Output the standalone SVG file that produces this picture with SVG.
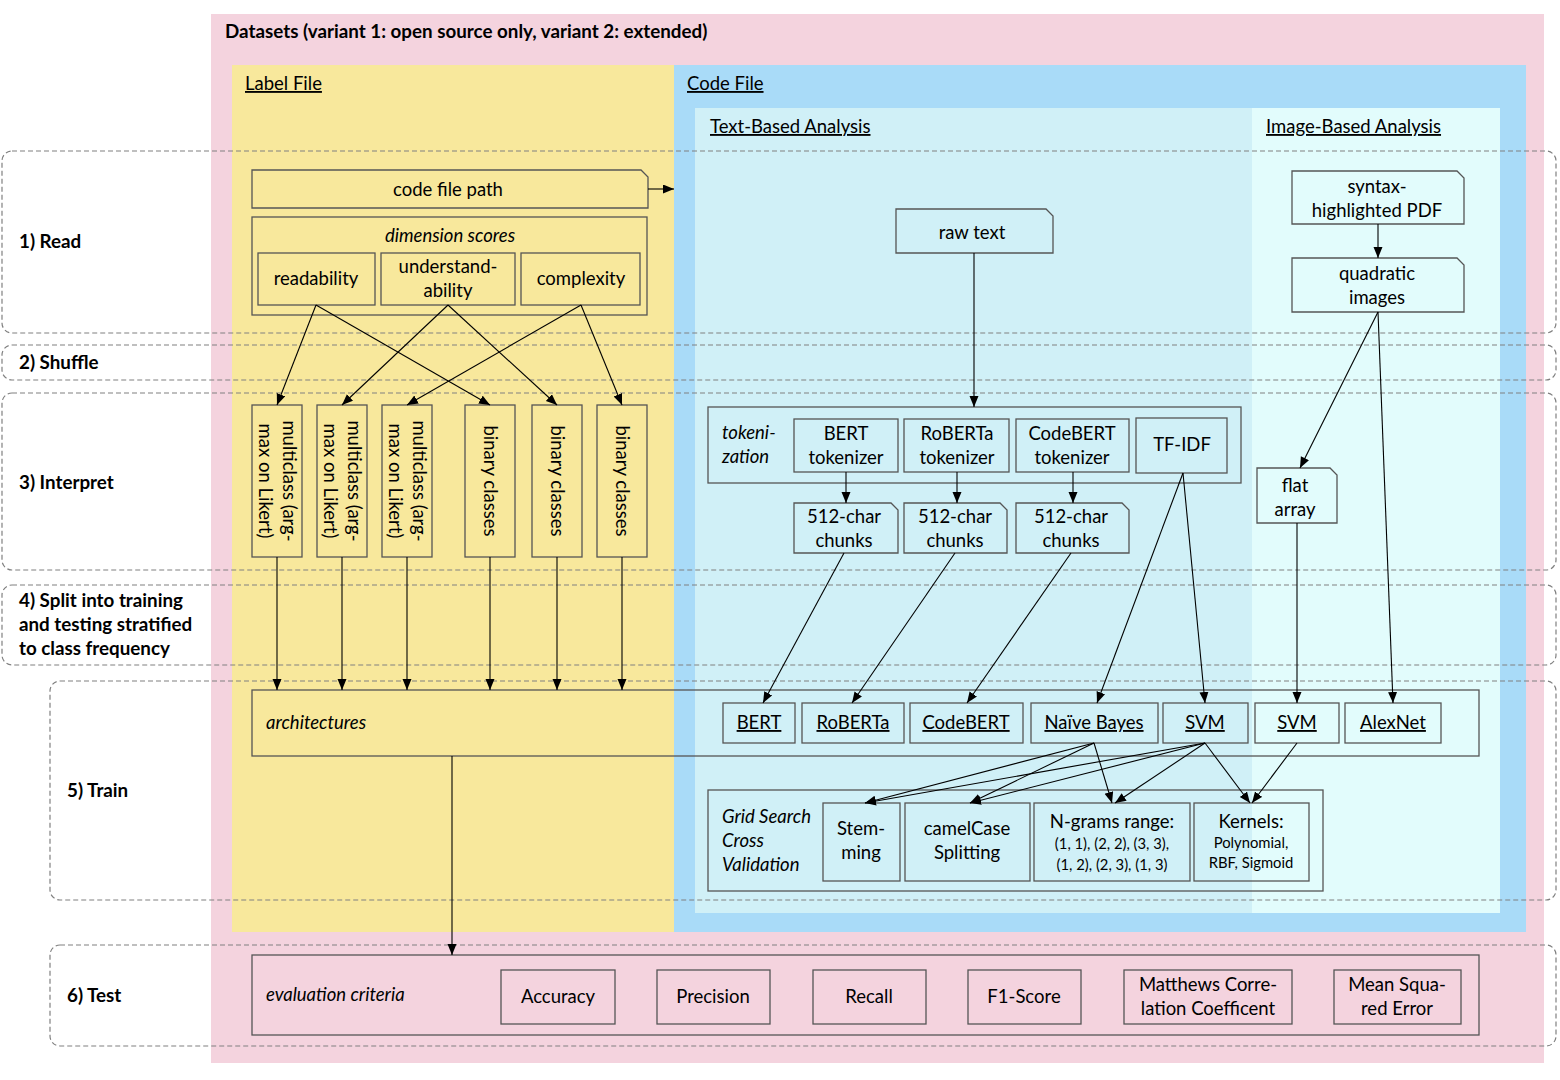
<svg xmlns="http://www.w3.org/2000/svg" width="1560" height="1080" viewBox="0 0 1560 1080">
<defs>
<marker id="ah" markerUnits="userSpaceOnUse" markerWidth="12" markerHeight="10" refX="11" refY="4.5" orient="auto"><path d="M0,0 L11,4.5 L0,9 z" fill="#000"/></marker>
<style>
text{font-family:Lato,"Open Sans","Liberation Sans",sans-serif;font-size:18.5px;fill:#000}
.c{text-anchor:middle}
.i{font-style:italic}
.b{font-weight:bold;font-size:18.8px}
.u{text-decoration:underline}
.s{font-size:14.8px}
.ph{fill:none;stroke:#808080;stroke-width:1.2;stroke-dasharray:5,3}
.n{fill:none;stroke:#555;stroke-width:1.3}
.cn line{stroke:#000;stroke-width:1.1;marker-end:url(#ah)}
</style>
</defs>
<rect width="1560" height="1080" fill="#fff"/>
<g id="backgrounds">
<rect x="211" y="14" width="1333" height="1049" fill="#f4d3de"/>
<rect x="232" y="65" width="442" height="867" fill="#f8e89c"/>
<rect x="674" y="65" width="852" height="867" fill="#a9dbf8"/>
<rect x="695" y="108" width="557" height="805" fill="#d0f0f7"/>
<rect x="1252" y="108" width="248" height="805" fill="#e2fcfc"/>
<text x="225" y="38" class="b">Datasets (variant 1: open source only, variant 2: extended)</text>
<text x="245" y="90" class="u">Label File</text>
<text x="687" y="90" class="u">Code File</text>
<text x="710" y="133" class="u">Text-Based Analysis</text>
<text x="1266" y="133" class="u">Image-Based Analysis</text>
</g>
<g id="phases">
<rect class="ph" x="2" y="151" width="1554" height="182" rx="10"/>
<rect class="ph" x="2" y="345" width="1554" height="35" rx="10"/>
<rect class="ph" x="2" y="393" width="1554" height="177" rx="10"/>
<rect class="ph" x="2" y="585" width="1554" height="80" rx="10"/>
<rect class="ph" x="50" y="681" width="1506" height="219" rx="10"/>
<rect class="ph" x="50" y="945" width="1506" height="101" rx="10"/>
<text x="19" y="248" class="b">1) Read</text>
<text x="19" y="369" class="b">2) Shuffle</text>
<text x="19" y="489" class="b">3) Interpret</text>
<text x="19" y="607" class="b">4) Split into training</text>
<text x="19" y="631" class="b">and testing stratified</text>
<text x="19" y="655" class="b">to class frequency</text>
<text x="67" y="797" class="b">5) Train</text>
<text x="67" y="1002" class="b">6) Test</text>
</g>
<g id="code-file-path"><path class="n" d="M252,170 H641 L648,177 V208 H252 Z"/><text x="448" y="196" class="c">code file path</text></g>
<g id="dimension-scores"><rect class="n" x="252" y="217" width="395" height="98"/><text x="450" y="242" class="c i">dimension scores</text></g>
<g id="readability"><rect class="n" x="258" y="253" width="117" height="52"/><text x="316" y="285" class="c">readability</text></g>
<g id="understandability"><rect class="n" x="381" y="253" width="134" height="52"/><text x="448" y="273" class="c">understand-</text><text x="448" y="297" class="c">ability</text></g>
<g id="complexity"><rect class="n" x="521" y="253" width="119" height="52"/><text x="581" y="285" class="c">complexity</text></g>
<g id="multiclass-1"><rect class="n" x="252" y="405" width="50" height="152"/><text transform="translate(277,481) rotate(90)" class="c"><tspan x="0" y="-6">multiclass (arg-</tspan><tspan x="0" y="18">max on Likert)</tspan></text></g>
<g id="multiclass-2"><rect class="n" x="317" y="405" width="50" height="152"/><text transform="translate(342,481) rotate(90)" class="c"><tspan x="0" y="-6">multiclass (arg-</tspan><tspan x="0" y="18">max on Likert)</tspan></text></g>
<g id="multiclass-3"><rect class="n" x="382" y="405" width="50" height="152"/><text transform="translate(407,481) rotate(90)" class="c"><tspan x="0" y="-6">multiclass (arg-</tspan><tspan x="0" y="18">max on Likert)</tspan></text></g>
<g id="binary-1"><rect class="n" x="465" y="405" width="50" height="152"/><text transform="translate(490,481) rotate(90)" class="c" y="6">binary classes</text></g>
<g id="binary-2"><rect class="n" x="532" y="405" width="50" height="152"/><text transform="translate(557,481) rotate(90)" class="c" y="6">binary classes</text></g>
<g id="binary-3"><rect class="n" x="597" y="405" width="50" height="152"/><text transform="translate(622,481) rotate(90)" class="c" y="6">binary classes</text></g>
<g id="raw-text"><path class="n" d="M896,209 H1046 L1053,216 V253 H896 Z"/><text x="972" y="239" class="c">raw text</text></g>
<g id="tokenization"><rect class="n" x="708" y="407" width="533" height="76"/><text x="722" y="439" class="i">tokeni-</text><text x="722" y="463" class="i">zation</text></g>
<g id="bert-tokenizer"><rect class="n" x="794" y="419" width="104" height="53"/><text x="846" y="440" class="c">BERT</text><text x="846" y="464" class="c">tokenizer</text></g>
<g id="roberta-tokenizer"><rect class="n" x="904" y="419" width="105" height="53"/><text x="957" y="440" class="c">RoBERTa</text><text x="957" y="464" class="c">tokenizer</text></g>
<g id="codebert-tokenizer"><rect class="n" x="1016" y="419" width="113" height="53"/><text x="1072" y="440" class="c">CodeBERT</text><text x="1072" y="464" class="c">tokenizer</text></g>
<g id="tf-idf"><rect class="n" x="1136" y="418" width="91" height="55"/><text x="1182" y="451" class="c">TF-IDF</text></g>
<g id="bert-chunks"><path class="n" d="M794,503 H891 L898,510 V553 H794 Z"/><text x="844" y="523" class="c">512-char</text><text x="844" y="547" class="c">chunks</text></g>
<g id="roberta-chunks"><path class="n" d="M904,503 H1000 L1007,510 V553 H904 Z"/><text x="955" y="523" class="c">512-char</text><text x="955" y="547" class="c">chunks</text></g>
<g id="codebert-chunks"><path class="n" d="M1016,503 H1122 L1129,510 V553 H1016 Z"/><text x="1071" y="523" class="c">512-char</text><text x="1071" y="547" class="c">chunks</text></g>
<g id="syntax-pdf"><path class="n" d="M1292,171 H1457 L1464,178 V224 H1292 Z"/><text x="1377" y="193" class="c">syntax-</text><text x="1377" y="217" class="c">highlighted PDF</text></g>
<g id="quadratic-images"><path class="n" d="M1292,258 H1457 L1464,265 V312 H1292 Z"/><text x="1377" y="280" class="c">quadratic</text><text x="1377" y="304" class="c">images</text></g>
<g id="flat-array"><path class="n" d="M1257,468 H1330 L1337,475 V523 H1257 Z"/><text x="1295" y="492" class="c">flat</text><text x="1295" y="516" class="c">array</text></g>
<g id="architectures"><rect class="n" x="252" y="690" width="1227" height="66"/><text x="266" y="729" class="i">architectures</text></g>
<g id="arch-bert"><rect class="n" x="723" y="703" width="72" height="40"/><text x="759" y="729" class="c u">BERT</text></g>
<g id="arch-roberta"><rect class="n" x="802" y="703" width="102" height="40"/><text x="853" y="729" class="c u">RoBERTa</text></g>
<g id="arch-codebert"><rect class="n" x="910" y="703" width="113" height="40"/><text x="966" y="729" class="c u">CodeBERT</text></g>
<g id="arch-naive-bayes"><rect class="n" x="1031" y="703" width="127" height="40"/><text x="1094" y="729" class="c u">Naïve Bayes</text></g>
<g id="arch-svm-text"><rect class="n" x="1163" y="703" width="85" height="40"/><text x="1205" y="729" class="c u">SVM</text></g>
<g id="arch-svm-image"><rect class="n" x="1255" y="703" width="84" height="40"/><text x="1297" y="729" class="c u">SVM</text></g>
<g id="arch-alexnet"><rect class="n" x="1345" y="703" width="96" height="40"/><text x="1393" y="729" class="c u">AlexNet</text></g>
<g id="grid-search"><rect class="n" x="708" y="790" width="615" height="101"/><text x="722" y="823" class="i">Grid Search</text><text x="722" y="847" class="i">Cross</text><text x="722" y="871" class="i">Validation</text></g>
<g id="stemming"><rect class="n" x="823" y="803" width="77" height="78"/><text x="861" y="835" class="c">Stem-</text><text x="861" y="859" class="c">ming</text></g>
<g id="camelcase"><rect class="n" x="905" y="803" width="125" height="78"/><text x="967" y="835" class="c">camelCase</text><text x="967" y="859" class="c">Splitting</text></g>
<g id="ngrams"><rect class="n" x="1034" y="803" width="156" height="78"/><text x="1112" y="828" class="c">N-grams range:</text><text x="1112" y="849" class="c s">(1, 1), (2, 2), (3, 3),</text><text x="1112" y="870" class="c s">(1, 2), (2, 3), (1, 3)</text></g>
<g id="kernels"><rect class="n" x="1194" y="803" width="115" height="78"/><text x="1251" y="828" class="c">Kernels:</text><text x="1251" y="848" class="c s">Polynomial,</text><text x="1251" y="868" class="c s">RBF, Sigmoid</text></g>
<g id="evaluation-criteria"><rect class="n" x="252" y="955" width="1227" height="80"/><text x="266" y="1001" class="i">evaluation criteria</text></g>
<g id="accuracy"><rect class="n" x="501" y="970" width="114" height="54"/><text x="558" y="1003" class="c">Accuracy</text></g>
<g id="precision"><rect class="n" x="657" y="970" width="113" height="54"/><text x="713" y="1003" class="c">Precision</text></g>
<g id="recall"><rect class="n" x="813" y="970" width="113" height="54"/><text x="869" y="1003" class="c">Recall</text></g>
<g id="f1-score"><rect class="n" x="968" y="970" width="113" height="54"/><text x="1024" y="1003" class="c">F1-Score</text></g>
<g id="mcc"><rect class="n" x="1124" y="970" width="168" height="54"/><text x="1208" y="991" class="c">Matthews Corre-</text><text x="1208" y="1015" class="c">lation Coefficent</text></g>
<g id="mse"><rect class="n" x="1334" y="970" width="127" height="54"/><text x="1397" y="991" class="c">Mean Squa-</text><text x="1397" y="1015" class="c">red Error</text></g>
<g id="connectors" class="cn">
<line x1="648" y1="189" x2="674" y2="189"/>
<line x1="316" y1="305" x2="277" y2="405"/>
<line x1="316" y1="305" x2="490" y2="405"/>
<line x1="448" y1="305" x2="342" y2="405"/>
<line x1="448" y1="305" x2="557" y2="405"/>
<line x1="581" y1="305" x2="407" y2="405"/>
<line x1="581" y1="305" x2="622" y2="405"/>
<line x1="277" y1="557" x2="277" y2="690"/>
<line x1="342" y1="557" x2="342" y2="690"/>
<line x1="407" y1="557" x2="407" y2="690"/>
<line x1="490" y1="557" x2="490" y2="690"/>
<line x1="557" y1="557" x2="557" y2="690"/>
<line x1="622" y1="557" x2="622" y2="690"/>
<line x1="452" y1="756" x2="452" y2="955"/>
<line x1="974" y1="253" x2="974" y2="407"/>
<line x1="846" y1="472" x2="846" y2="503"/>
<line x1="957" y1="472" x2="957" y2="503"/>
<line x1="1073" y1="472" x2="1073" y2="503"/>
<line x1="844" y1="553" x2="763" y2="703"/>
<line x1="955" y1="553" x2="852" y2="703"/>
<line x1="1071" y1="553" x2="967" y2="703"/>
<line x1="1183" y1="473" x2="1097" y2="703"/>
<line x1="1183" y1="473" x2="1205" y2="703"/>
<line x1="1378" y1="224" x2="1378" y2="258"/>
<line x1="1378" y1="312" x2="1300" y2="468"/>
<line x1="1378" y1="312" x2="1393" y2="703"/>
<line x1="1297" y1="523" x2="1297" y2="703"/>
<line x1="1094" y1="743" x2="865" y2="803"/>
<line x1="1094" y1="743" x2="970" y2="803"/>
<line x1="1094" y1="743" x2="1112" y2="803"/>
<line x1="1205" y1="743" x2="865" y2="803"/>
<line x1="1205" y1="743" x2="970" y2="803"/>
<line x1="1205" y1="743" x2="1115" y2="803"/>
<line x1="1205" y1="743" x2="1250" y2="803"/>
<line x1="1297" y1="743" x2="1252" y2="803"/>
</g>
</svg>
